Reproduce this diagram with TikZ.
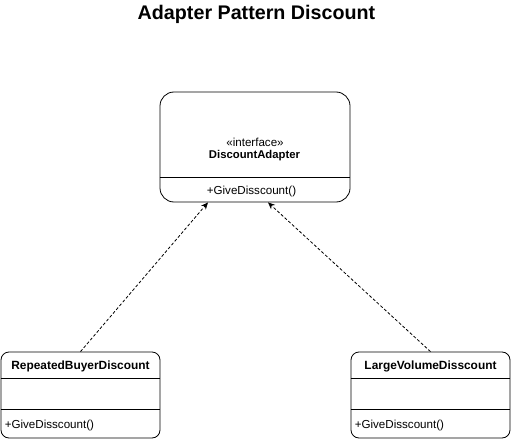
\documentclass[tikz,border=0pt]{standalone}
\usepackage{fontspec}
\setmainfont{Liberation Sans}
\usetikzlibrary{arrows.meta,positioning}

\tikzset{
  classbox/.style={draw, rounded corners=8pt, line width=0.8pt, inner sep=0pt,
    minimum width=159pt, minimum height=86pt},
  realize/.style={densely dashed, line width=0.8pt, -{Stealth[length=7pt,width=6pt]}},
  txt/.style={inner sep=0pt, font=\fontsize{11.6}{13}\selectfont},
  bold/.style={txt, font=\fontsize{11.9}{13}\selectfont\bfseries},
}

\begin{document}
\begin{tikzpicture}[x=1pt,y=-1pt]
    \useasboundingbox (0,0) rectangle (511,441);

    % Title
    \node[inner sep=0pt, font=\fontsize{19.7}{23}\selectfont\bfseries] (title) at (256.5,14) {Adapter Pattern Discount};

    % Interface
    \node[classbox, rounded corners=14pt, minimum width=190pt, minimum height=110pt] (adapter) at (255,147) {};
    \draw[line width=0.8pt] (adapter.west |- 0,177) -- (adapter.east |- 0,177);
    \node[txt] (stereo) at (255,142) {«interface»};
    \node[bold, font=\fontsize{11.3}{13}\selectfont\bfseries] (adname) at (254.5,156) {DiscountAdapter};
    \node[txt] (admeth) at (251.5,191) {+GiveDisscount()};

    % Concrete classes
    \foreach \n/\cx/\name in {repeated/80.5/RepeatedBuyerDiscount, large/430.5/LargeVolumeDisscount} {
        \node[classbox] (\n) at (\cx,395) {};
        \draw[line width=0.8pt] (\n.west |- 0,378) -- (\n.east |- 0,378);
        \draw[line width=0.8pt] (\n.west |- 0,409) -- (\n.east |- 0,409);
        \node[bold] (\n name) at (\cx,366) {\name};
        \node[txt, anchor=west] (\n meth) at ([xshift=4pt]\n.west |- 0,425) {+GiveDisscount()};
    }

    % Realizations
    \draw[realize] (repeated.north) -- ([xshift=-47pt]adapter.south);
    \draw[realize] (large.north) -- ([xshift=13pt]adapter.south);
\end{tikzpicture}
\end{document}
